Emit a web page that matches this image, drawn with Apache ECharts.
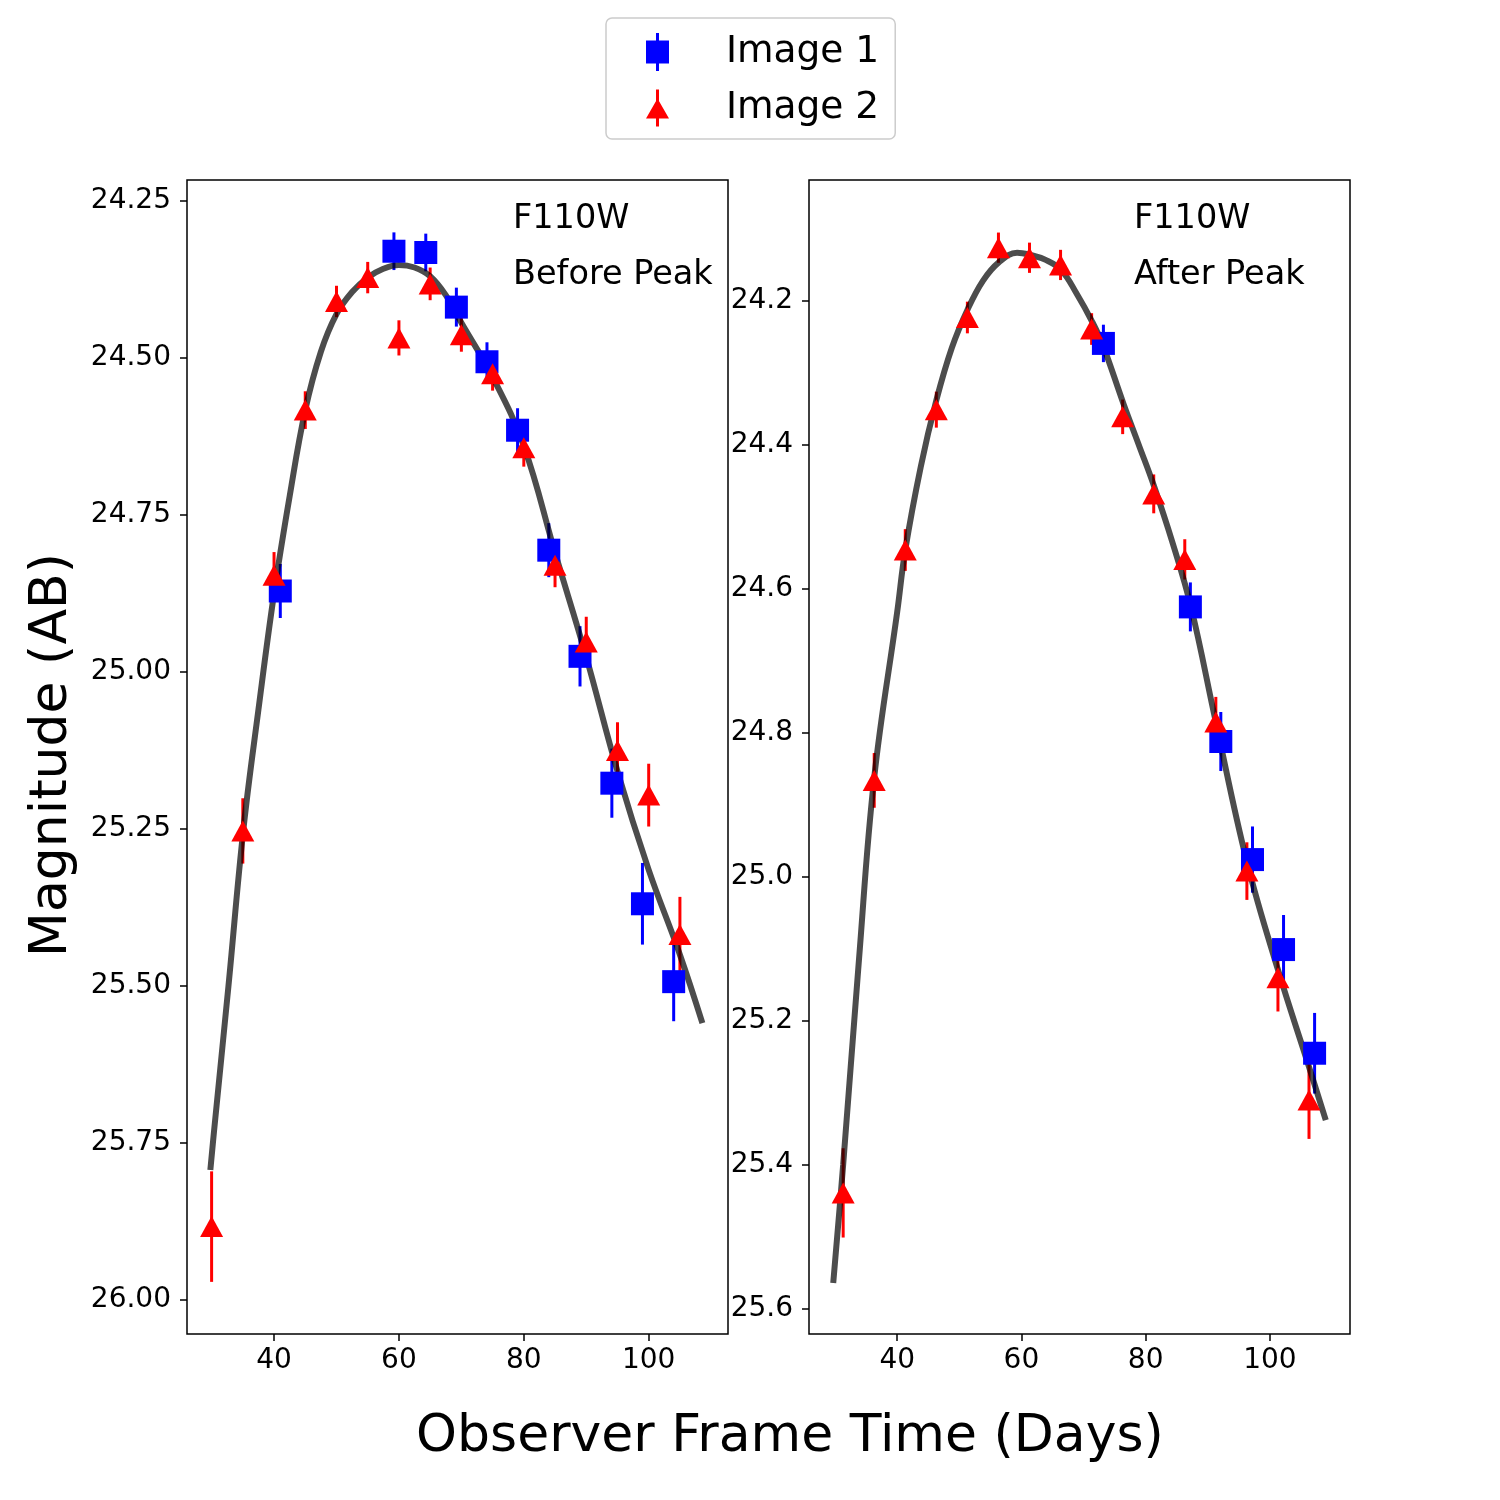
<!DOCTYPE html>
<html lang="en">
<head>
    <meta charset="UTF-8">
    <script src="https://cdn.jsdelivr.net/npm/echarts@6/dist/echarts.min.js"></script>
    <title>F110W Light Curve</title>
</head>
<body style="margin:0;background:#fff;">
    <div id="main" style="width:1500px;height:1500px;"></div>
    <script type="text/javascript">
      // left panel: before peak
      var beforeImg1X = [41.0, 59.2, 64.3, 69.2, 74.1, 79.0, 84.0, 89.0, 94.1, 99.0, 104.0];
      var beforeImg1M = [24.871, 24.330, 24.332, 24.419, 24.506, 24.615, 24.806, 24.975, 25.177, 25.369, 25.493];
      var beforeImg1E = [0.043, 0.030, 0.030, 0.031, 0.031, 0.035, 0.043, 0.048, 0.055, 0.065, 0.063];

      var beforeImg2X = [30.0, 35.0, 40.0, 45.0, 50.0, 55.0, 60.0, 65.0, 70.0, 75.0, 80.0, 85.0, 90.0, 95.0, 100.0, 105.0];
      var beforeImg2M = [25.883, 25.253, 24.846, 24.583, 24.410, 24.372, 24.468, 24.382, 24.463, 24.525, 24.643, 24.830, 24.952, 25.125, 25.196, 25.418];
      var beforeImg2E = [0.088, 0.052, 0.037, 0.030, 0.025, 0.025, 0.028, 0.026, 0.027, 0.027, 0.030, 0.035, 0.040, 0.045, 0.050, 0.060];

      var beforeFitX = [29.8, 30.4, 32.7, 35.1, 37.5, 40.0, 42.5, 45.0, 47.5, 50.0, 52.5, 55.0, 57.5, 60.0, 62.5, 65.0, 67.5, 70.0, 75.0, 80.0, 85.0, 90.0, 95.0, 100.0, 105.0, 108.6];
      var beforeFitM = [25.793, 25.73, 25.50, 25.25, 25.06, 24.875, 24.72, 24.583, 24.49, 24.43, 24.395, 24.372, 24.358, 24.352, 24.356, 24.37, 24.40, 24.444, 24.53, 24.64, 24.81, 24.976, 25.158, 25.315, 25.45, 25.559];

      // right panel: after peak
      var afterImg1X = [73.2, 87.2, 92.1, 97.2, 102.2, 107.2];
      var afterImg1M = [24.259, 24.625, 24.812, 24.976, 25.101, 25.245];
      var afterImg1E = [0.026, 0.034, 0.041, 0.046, 0.048, 0.056];

      var afterImg2X = [31.3, 36.3, 41.3, 46.3, 51.3, 56.3, 61.3, 66.3, 71.3, 76.3, 81.3, 86.3, 91.3, 96.3, 101.3, 106.3];
      var afterImg2M = [25.439, 24.866, 24.546, 24.351, 24.223, 24.126, 24.140, 24.150, 24.239, 24.361, 24.468, 24.559, 24.785, 24.992, 25.140, 25.310];
      var afterImg2E = [0.062, 0.038, 0.029, 0.025, 0.022, 0.021, 0.021, 0.021, 0.022, 0.024, 0.027, 0.028, 0.035, 0.040, 0.047, 0.054];

      var afterFitX = [29.7, 31.3, 33.8, 36.3, 40.0, 41.3, 43.8, 46.3, 48.8, 51.3, 53.8, 56.4, 59.3, 61.4, 63.9, 66.4, 68.9, 71.4, 73.1, 76.4, 78.9, 81.3, 84.3, 87.3, 91.3, 96.3, 101.3, 106.3, 109.0];
      var afterFitM = [25.564, 25.40, 25.12, 24.862, 24.632, 24.546, 24.43, 24.338, 24.265, 24.2125, 24.172, 24.146, 24.133, 24.136, 24.143, 24.157, 24.19, 24.229, 24.261, 24.342, 24.40, 24.456, 24.535, 24.625, 24.785, 24.979, 25.129, 25.264, 25.338];

      var xTicks = [40, 60, 80, 100];
      var beforeYTicks = [24.25, 24.50, 24.75, 25.00, 25.25, 25.50, 25.75, 26.00];
      var afterYTicks = [24.2, 24.4, 24.6, 24.8, 25.0, 25.2, 25.4, 25.6];

      var FONT = 'DejaVu Sans';
      var BLUE = '#0000ff', RED = '#ff0000';

      function pairs(xs, ys) {
        return xs.map(function (x, i) { return [x, ys[i]]; });
      }
      function triples(xs, ys, es) {
        return xs.map(function (x, i) { return [x, ys[i], es[i]]; });
      }

      function errSeries(idx, xs, ys, es, color) {
        return {
          type: 'custom',
          xAxisIndex: idx, yAxisIndex: idx,
          z: 2,
          silent: true,
          encode: { x: 0, y: 1 },
          data: triples(xs, ys, es),
          renderItem: function (params, api) {
            var x = api.value(0), m = api.value(1), e = api.value(2);
            var p1 = api.coord([x, m - e]);
            var p2 = api.coord([x, m + e]);
            return {
              type: 'line',
              shape: { x1: p1[0], y1: p1[1], x2: p2[0], y2: p2[1] },
              style: { stroke: color, lineWidth: 3 }
            };
          }
        };
      }

      function xAxis(idx, min, max) {
        return {
          type: 'value', gridIndex: idx, min: min, max: max,
          splitLine: { show: false },
          axisLine: { show: false },
          axisTick: { show: true, length: 7, lineStyle: { color: '#000', width: 1.5 }, customValues: xTicks },
          axisLabel: { fontFamily: FONT, fontSize: 28, color: '#000', margin: 13, customValues: xTicks }
        };
      }

      function yAxis(idx, min, max, ticks, digits) {
        return {
          type: 'value', gridIndex: idx, min: min, max: max, inverse: true,
          splitLine: { show: false },
          axisLine: { show: false },
          axisTick: { show: true, length: 7, lineStyle: { color: '#000', width: 1.5 }, customValues: ticks },
          axisLabel: {
            fontFamily: FONT, fontSize: 28, color: '#000', margin: 16, customValues: ticks,
            formatter: function (v) { return v.toFixed(digits); }
          }
        };
      }

      var squareIcon = 'path://M10,0h3v38h-3zM0,7.5h23v23h-23z';
      var triangleIcon = 'path://M10,0h3v37h-3zM11.5,9L23,29H0z';

      var myChart = echarts.init(document.getElementById('main'));

      var option = {
        animation: false,
        backgroundColor: '#fff',
        grid: [
          { left: 187, top: 180, width: 541, height: 1154, show: true, borderColor: '#000', borderWidth: 1.5, backgroundColor: 'transparent' },
          { left: 809, top: 180, width: 541, height: 1154, show: true, borderColor: '#000', borderWidth: 1.5, backgroundColor: 'transparent' }
        ],
        xAxis: [xAxis(0, 26.06, 112.7), xAxis(1, 25.8, 112.9)],
        yAxis: [yAxis(0, 24.2166, 26.054, beforeYTicks, 2), yAxis(1, 24.032, 25.635, afterYTicks, 1)],
        legend: {
          orient: 'vertical',
          left: 606, top: 18,
          padding: [15, 16, 12, 40],
          itemWidth: 23, itemHeight: 38, itemGap: 18,
          backgroundColor: '#fff',
          borderColor: '#cccccc', borderWidth: 1.5, borderRadius: 6,
          selectedMode: false,
          textStyle: { fontFamily: FONT, fontSize: 37.5, color: '#000', lineHeight: 38, padding: [0, 0, 0, 52] },
          data: [
            { name: 'Image 1', icon: squareIcon },
            { name: 'Image 2', icon: triangleIcon }
          ]
        },
        graphic: [
          { type: 'text', left: 513, top: 202, style: { text: 'F110W', font: '33.5px "DejaVu Sans"', fill: '#000' } },
          { type: 'text', left: 513, top: 258, style: { text: 'Before Peak', font: '33.5px "DejaVu Sans"', fill: '#000' } },
          { type: 'text', left: 1134, top: 202, style: { text: 'F110W', font: '33.5px "DejaVu Sans"', fill: '#000' } },
          { type: 'text', left: 1134, top: 258, style: { text: 'After Peak', font: '33.5px "DejaVu Sans"', fill: '#000' } },
          { type: 'text', x: 790, y: 1437, style: { text: 'Observer Frame Time (Days)', font: '52px "DejaVu Sans"', fill: '#000', align: 'center', verticalAlign: 'middle' } },
          { type: 'text', x: 52, y: 755, rotation: Math.PI / 2, style: { text: 'Magnitude (AB)', font: '52px "DejaVu Sans"', fill: '#000', align: 'center', verticalAlign: 'middle' } }
        ],
        series: [
          errSeries(0, beforeImg1X, beforeImg1M, beforeImg1E, BLUE),
          errSeries(0, beforeImg2X, beforeImg2M, beforeImg2E, RED),
          errSeries(1, afterImg1X, afterImg1M, afterImg1E, BLUE),
          errSeries(1, afterImg2X, afterImg2M, afterImg2E, RED),
          {
            name: 'fit before', type: 'line', xAxisIndex: 0, yAxisIndex: 0, z: 3,
            data: pairs(beforeFitX, beforeFitM), smooth: 0.4, showSymbol: false, silent: true,
            lineStyle: { color: 'rgba(0,0,0,0.7)', width: 6 }
          },
          {
            name: 'fit after', type: 'line', xAxisIndex: 1, yAxisIndex: 1, z: 3,
            data: pairs(afterFitX, afterFitM), smooth: 0.4, showSymbol: false, silent: true,
            lineStyle: { color: 'rgba(0,0,0,0.7)', width: 6 }
          },
          {
            name: 'Image 1', type: 'scatter', xAxisIndex: 0, yAxisIndex: 0, z: 4,
            symbol: 'rect', symbolSize: 23, itemStyle: { color: BLUE, opacity: 1 },
            data: pairs(beforeImg1X, beforeImg1M)
          },
          {
            name: 'Image 2', type: 'scatter', xAxisIndex: 0, yAxisIndex: 0, z: 5,
            symbol: 'triangle', symbolSize: [23, 21], itemStyle: { color: RED, opacity: 1 },
            data: pairs(beforeImg2X, beforeImg2M)
          },
          {
            name: 'Image 1', type: 'scatter', xAxisIndex: 1, yAxisIndex: 1, z: 4,
            symbol: 'rect', symbolSize: 23, itemStyle: { color: BLUE, opacity: 1 },
            data: pairs(afterImg1X, afterImg1M)
          },
          {
            name: 'Image 2', type: 'scatter', xAxisIndex: 1, yAxisIndex: 1, z: 5,
            symbol: 'triangle', symbolSize: [23, 21], itemStyle: { color: RED, opacity: 1 },
            data: pairs(afterImg2X, afterImg2M)
          }
        ]
      };

      myChart.setOption(option);
    </script>
</body>
</html>
